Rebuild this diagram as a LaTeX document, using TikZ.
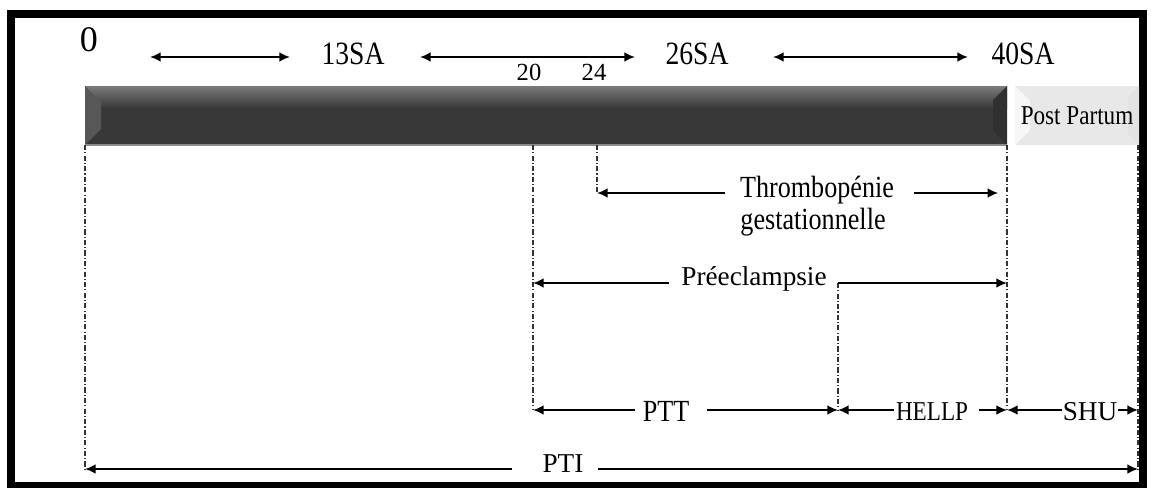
\documentclass[tikz,border=0pt]{standalone}
\usepackage{fontspec}
\setmainfont{Liberation Serif}
\newfontfamily\narrowserif[FakeStretch=0.85]{Liberation Serif}
\usetikzlibrary{arrows.meta}

\tikzset{
	span/.style={line width=1.1pt, -{Latex[length=6pt,width=5.5pt]}},
	twoway/.style={line width=1.1pt, {Latex[length=6pt,width=5.5pt]}-{Latex[length=6pt,width=5.5pt]}},
	guide/.style={line width=0.75pt, black!80, dash pattern=on 3pt off 1.2pt on 0.6pt off 1.2pt},
	lbl/.style={inner sep=0pt, font=\fontsize{15.5}{17}\selectfont},
	narrowlbl/.style={inner sep=0pt, font=\narrowserif\fontsize{17.5}{19}\selectfont},
	salbl/.style={inner sep=0pt, font=\narrowserif\fontsize{18.5}{20}\selectfont},
}

\begin{document}
\begin{tikzpicture}[x=0.02cm, y=-0.02cm]
	\useasboundingbox (0,0) rectangle (1151,487);
	\draw[line width=4.5pt] (11,14) rectangle (1143,486);

	% weeks on top
	\node[inner sep=0pt, font=\fontsize{20.5}{22}\selectfont] (zero) at (89,40) {0};
	\node[salbl] (sa13) at (353,54) {13SA};
	\node[salbl] (sa26) at (697,54) {26SA};
	\node[salbl] (sa40) at (1023,54) {40SA};
	\node[inner sep=0pt, font=\fontsize{14}{16}\selectfont] (w20) at (529,72) {20};
	\node[inner sep=0pt, font=\fontsize{14}{16}\selectfont] (w24) at (594,72) {24};

	\coordinate (t1a) at (150,57);
	\coordinate (t1b) at (290,57);
	\coordinate (t2a) at (420,57);
	\coordinate (t2b) at (635,57);
	\coordinate (t3a) at (773,57);
	\coordinate (t3b) at (968,57);
	\draw[twoway] (t1a) -- (t1b);
	\draw[twoway] (t2a) -- (t2b);
	\draw[twoway] (t3a) -- (t3b);

	% pregnancy bar
	\fill[black!78] (85,86) rectangle (1007,145);
	\shade[top color=black!52, bottom color=black!78] (85,86) rectangle (1007,108);
	\fill[black!66] (85,86) -- (101,102) -- (101,129) -- (85,145) -- cycle;
	\fill[black!81] (1007,86) -- (993,100) -- (993,131) -- (1007,145) -- cycle;
	\draw[black!45, line width=0.6pt] (85,145) -- (1007,145);

	% post partum box
	\fill[black!9] (1015,86) rectangle (1139,145);
	\fill[black!3] (1015,86) -- (1030,101) -- (1030,130) -- (1015,145) -- cycle;
	\fill[black!11] (1139,86) -- (1128,97) -- (1128,134) -- (1139,145) -- cycle;
	\node[inner sep=0pt, font=\narrowserif\fontsize{15.5}{17}\selectfont] (pp) at (1077,116) {Post Partum};

	% guides
	\coordinate (g0) at (85,145);
	\coordinate (g20) at (533,145);
	\coordinate (g24) at (597,145);
	\coordinate (g40) at (1007,145);
	\coordinate (gpp) at (1138,145);
	\coordinate (gpe) at (838,283);
	\coordinate (rthr) at (597,193);
	\coordinate (rpt) at (533,410);
	\coordinate (rpti) at (85,469);

	\draw[guide] (g0) -- (g0 |- rpti);
	\draw[guide] (g20) -- (g20 |- rpt);
	\draw[guide] (g24) -- (rthr);
	\draw[guide] (g40) -- (g40 |- rpt);
	\draw[guide] (gpe) -- (gpe |- rpt);
	\draw[guide] (gpp) -- (gpp |- rpti);

	% thrombopenie gestationnelle
	\node[narrowlbl] (thr) at (817,190) {Thrombopénie};
	\node[narrowlbl] (gest) at (813,222) {gestationnelle};
	\draw[span, shorten <=8.5pt] (thr.west |- rthr) -- (rthr);
	\draw[span, shorten <=11pt, shorten >=5pt] (thr.east |- rthr) -- (g40 |- rthr);

	% preeclampsie
	\node[lbl] (pre) at (754,279) {Préeclampsie};
	\draw[span, shorten <=7pt] (pre.west |- gpe) -- (g20 |- gpe);
	\draw[span] (gpe) -- (g40 |- gpe);

	% PTT, HELLP, SHU
	\node[narrowlbl] (ptt) at (666,411) {PTT};
	\node[inner sep=0pt, font=\narrowserif\fontsize{15.5}{17}\selectfont] (hellp) at (932,412) {HELLP};
	\node[lbl] (shu) at (1090,412) {SHU};
	\draw[span, shorten <=4.5pt] (ptt.west |- rpt) -- (rpt);
	\draw[span, shorten <=10pt] (ptt.east |- rpt) -- (gpe |- rpt);
	\draw[span, shorten <=1pt] (hellp.west |- rpt) -- (gpe |- rpt);
	\draw[span, shorten <=6pt] (hellp.east |- rpt) -- (g40 |- rpt);
	\draw[span] (shu.west |- rpt) -- (g40 |- rpt);
	\draw[span] (shu.east |- rpt) -- (gpp |- rpt);

	% PTI
	\node[lbl] (pti) at (563,464) {PTI};
	\draw[span, shorten <=17pt] (pti.west |- rpti) -- (rpti);
	\draw[span, shorten <=8pt] (pti.east |- rpti) -- (gpp |- rpti);
\end{tikzpicture}
\end{document}
